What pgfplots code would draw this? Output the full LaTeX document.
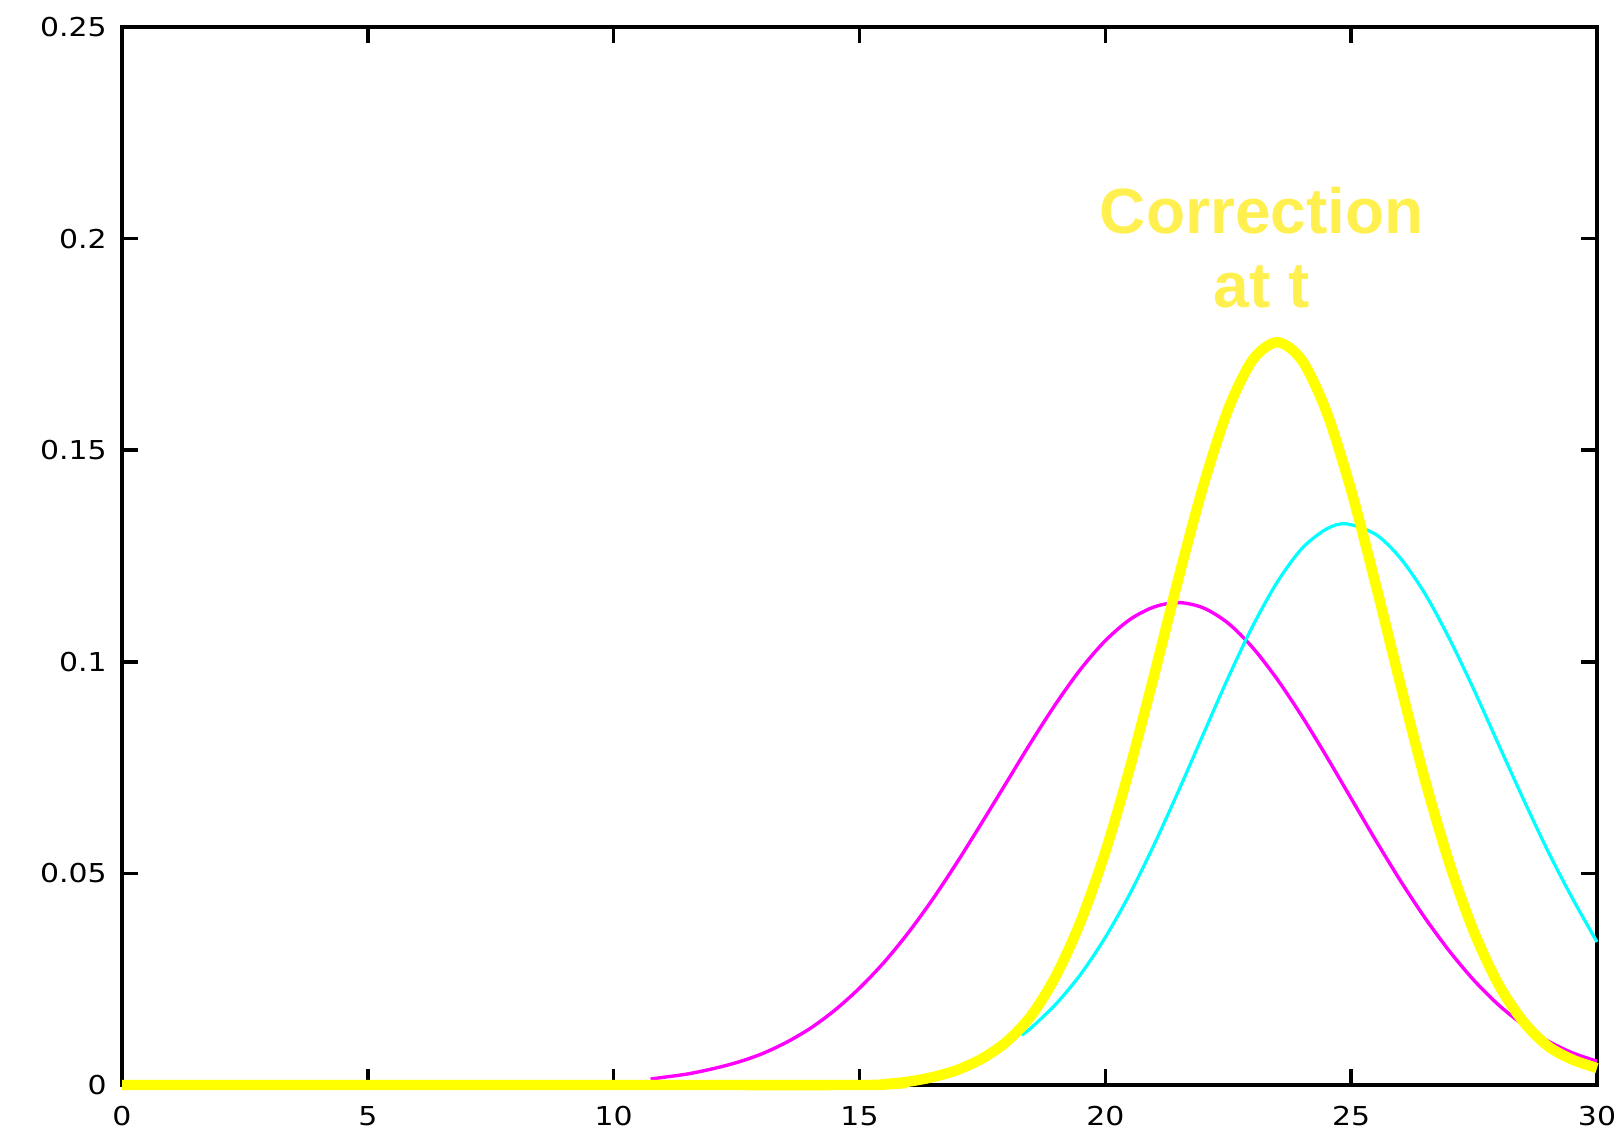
\documentclass[border=0pt]{standalone}
\usepackage{fontspec}
\setmainfont{DejaVu Sans}
\newfontfamily\tickfont[FakeStretch=1.15]{DejaVu Sans}
\newfontfamily\annfont{Liberation Sans}
\usepackage{pgfplots}
\pgfplotsset{compat=1.18}
\definecolor{mag}{RGB}{255,0,255}
\definecolor{cya}{RGB}{0,255,255}
\definecolor{yel}{RGB}{255,255,0}
\definecolor{anncol}{RGB}{255,240,80}
\begin{document}
\begin{tikzpicture}
\begin{axis}[
  scale only axis,
  width=368.75pt, height=264.5pt,
  xmin=0, xmax=30, ymin=0, ymax=0.25,
  xtick={0,5,10,15,20,25,30},
  ytick={0,0.05,0.1,0.15,0.2,0.25},
  yticklabels={0,0.05,0.1,0.15,0.2,0.25},
  tick align=inside,
  major tick length=4pt,
  axis line style={line width=0.9pt},
  every tick/.style={black, line width=0.9pt},
  tick label style={font=\tickfont\fontsize{6.5}{8}\selectfont},
  xticklabel style={yshift=-1.8pt},
  yticklabel style={xshift=-0.3pt},
  /pgf/number format/assume math mode=true,
  clip=false,
]
\addplot[mag, line width=0.85pt, smooth] coordinates {
(10.75,0.0014) (11,0.0018) (11.5,0.0026) (12,0.0038) (12.5,0.0053) (13,0.0073)
(13.5,0.0100) (14,0.0134) (14.5,0.0177) (15,0.0229) (15.5,0.0290) (16,0.0361)
(16.5,0.0441) (17,0.0529) (17.5,0.0622) (18,0.0717) (18.5,0.0812) (19,0.0902)
(19.5,0.0983) (20,0.1050) (20.5,0.1100) (21,0.1130) (21.5,0.1140) (22,0.1127)
(22.5,0.1091) (23,0.1033) (23.5,0.0958) (24,0.0871) (24.5,0.0776) (25,0.0677)
(25.5,0.0578) (26,0.0483) (26.5,0.0395) (27,0.0316) (27.5,0.0247) (28,0.0189)
(28.5,0.0142) (29,0.0104) (29.5,0.0076) (30,0.0056)
};
\addplot[cya, line width=0.8pt, smooth] coordinates {
(18.3,0.0118) (18.5,0.0136) (19,0.0192) (19.5,0.0262) (20,0.0349) (20.5,0.0452)
(21,0.0570) (21.5,0.0698) (22,0.0831) (22.5,0.0963) (23,0.1085) (23.5,0.1189)
(24,0.1268) (24.5,0.1314) (24.9,0.1326) (25.5,0.1301) (26,0.1245) (26.5,0.1161)
(27,0.1054) (27.5,0.0933) (28,0.0804) (28.5,0.0676) (29,0.0553) (29.5,0.0441)
(30,0.0338)
};
\addplot[yel, line width=2.6pt, smooth] coordinates {
(0,0) (5,0) (10,0) (15,0) (15.5,0.0002) (16,0.0008) (16.5,0.0019) (17,0.0036)
(17.5,0.0063) (18,0.0103) (18.5,0.0165) (19,0.0259) (19.5,0.0387) (20,0.0551)
(20.5,0.0750) (21,0.0972) (21.5,0.1203) (22,0.1419) (22.5,0.1597) (23,0.1714)
(23.5,0.1755) (24,0.1712) (24.5,0.1590) (25,0.1405) (25.5,0.1182) (26,0.0947)
(26.5,0.0721) (27,0.0523) (27.5,0.0361) (28,0.0237) (28.5,0.0150) (29,0.0092)
(29.5,0.0060) (30,0.0040)
};
\node[anchor=base, inner sep=0pt, text=anncol, font=\annfont\bfseries\fontsize{16}{19}\selectfont] at (axis cs:23.18,0.2013) {Correction};
\node[anchor=base, inner sep=0pt, text=anncol, font=\annfont\bfseries\fontsize{16}{19}\selectfont] at (axis cs:23.18,0.1836) {at t};
\coordinate (sw) at (rel axis cs:0,0);
\coordinate (ne) at (rel axis cs:1,1);
\end{axis}
\pgfresetboundingbox
\path ([shift={(-30.5pt,-12pt)}]sw) rectangle ([shift={(6.75pt,6.75pt)}]ne);
\end{tikzpicture}
\end{document}
